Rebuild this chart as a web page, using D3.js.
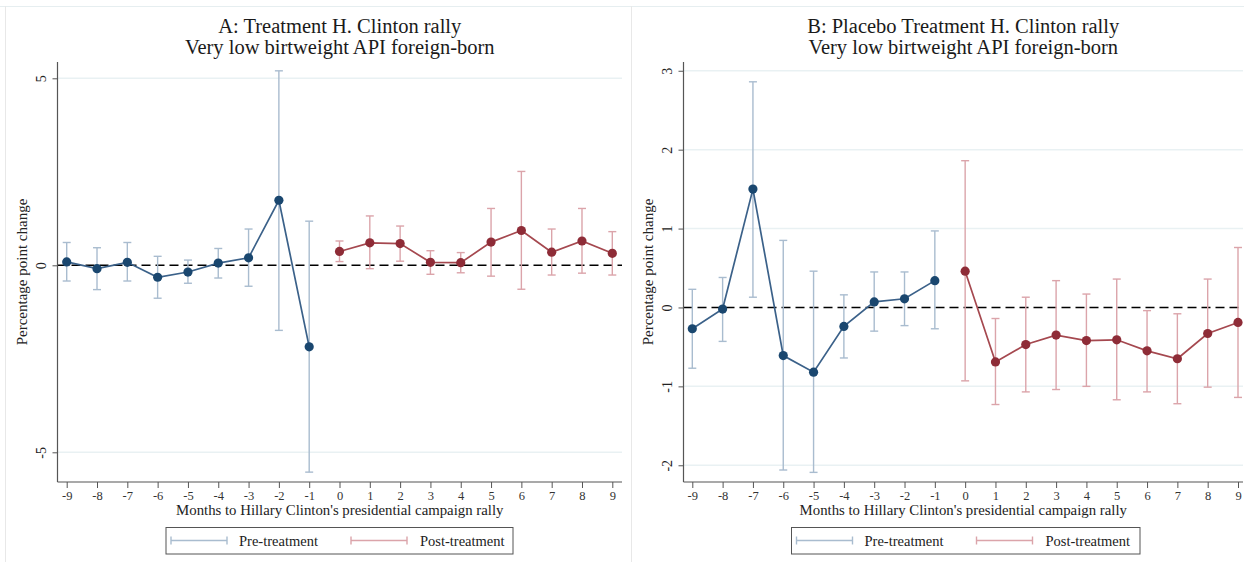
<!DOCTYPE html>
<html><head><meta charset="utf-8">
<script src="https://cdn.jsdelivr.net/npm/d3@7"></script>
<style>body{margin:0;background:#fff}svg{display:block}text{font-family:"Liberation Serif","Times New Roman",serif}</style>
</head><body><svg id="c" width="1244" height="562"></svg>
<script>
// months
const preMonths = [-9,-8,-7,-6,-5,-4,-3,-2,-1];
const postMonths = [0,1,2,3,4,5,6,7,8,9];
const xTicks = [-9,-8,-7,-6,-5,-4,-3,-2,-1,0,1,2,3,4,5,6,7,8,9];

// Panel A: Treatment
const aPre   = [0.09,-0.09,0.08,-0.32,-0.18,0.06,0.20,1.74,-2.18];
const aPreHi = [0.61,0.47,0.61,0.24,0.14,0.45,0.97,5.20,1.18];
const aPreLo = [-0.42,-0.65,-0.42,-0.88,-0.48,-0.34,-0.56,-1.74,-5.53];
const aPost   = [0.37,0.60,0.58,0.08,0.07,0.62,0.93,0.35,0.65,0.32];
const aPostHi = [0.65,1.32,1.05,0.39,0.34,1.52,2.51,0.97,1.52,0.90];
const aPostLo = [0.10,-0.09,0.11,-0.24,-0.20,-0.29,-0.64,-0.26,-0.21,-0.26];
const aYTicks = [-5,0,5];

// Panel B: Placebo
const bPre   = [-0.27,-0.02,1.50,-0.61,-0.82,-0.24,0.07,0.11,0.34];
const bPreHi = [0.23,0.38,2.86,0.85,0.46,0.16,0.45,0.45,0.97];
const bPreLo = [-0.77,-0.43,0.13,-2.06,-2.09,-0.64,-0.30,-0.23,-0.27];
const bPost   = [0.46,-0.69,-0.47,-0.35,-0.42,-0.41,-0.55,-0.65,-0.33,-0.19];
const bPostHi = [1.86,-0.14,0.13,0.34,0.17,0.36,-0.04,-0.08,0.36,0.76];
const bPostLo = [-0.93,-1.23,-1.07,-1.04,-1.00,-1.17,-1.07,-1.22,-1.01,-1.14];
const bYTicks = [-2,-1,0,1,2,3];

const titleA = ["A: Treatment H. Clinton rally","Very low birtweight API foreign-born"];
const titleB = ["B: Placebo Treatment H. Clinton rally","Very low birtweight API foreign-born"];
const xTitle = "Months to Hillary Clinton's presidential campaign rally";
const yTitle = "Percentage point change";
const legendLabels = ["Pre-treatment","Post-treatment"];

const C = {preDot:"#1a476f", preLine:"#3b6189", preCI:"#a9bccf", postDot:"#8e2c37", postLine:"#a5484f", postCI:"#dba4aa", grid:"#e9f1f3", txt:"#222"};
const fmt = d => String(d);

const svg = d3.select("#c");
svg.append("rect").attr("width",1244).attr("height",562).attr("fill","#fff");
// panel frames
svg.append("line").attr("x1",0).attr("x2",1244).attr("y1",6.5).attr("y2",6.5).attr("stroke","#e6eef0");
svg.append("line").attr("x1",5.5).attr("x2",5.5).attr("y1",6).attr("y2",562).attr("stroke","#e8e8e8");
svg.append("line").attr("x1",631.5).attr("x2",631.5).attr("y1",6).attr("y2",562).attr("stroke","#e8e8e8");

function panel(cfg){
  const g = svg.append("g");
  const x = d3.scaleLinear().domain([-9,9]).range([cfg.x0,cfg.x1]);
  const y = d3.scaleLinear().domain(cfg.yDom).range([cfg.bottom,cfg.top]);
  // gridlines
  g.selectAll(".grid").data(cfg.yTicks.filter(v=>v!==0)).enter().append("line")
    .attr("x1",cfg.left).attr("x2",cfg.right).attr("y1",d=>y(d)).attr("y2",d=>y(d))
    .attr("stroke",C.grid).attr("stroke-width",1.5);
  // zero line
  g.append("line").attr("x1",cfg.left).attr("x2",cfg.right).attr("y1",y(0)).attr("y2",y(0))
    .attr("stroke","#000").attr("stroke-width",1.6).attr("stroke-dasharray","9,5");
  // axes
  const yAxis = d3.axisLeft(y).tickValues(cfg.yTicks).tickSize(5).tickFormat(fmt);
  const ya = g.append("g").attr("transform",`translate(${cfg.left},0)`).call(yAxis);
  ya.select(".domain").attr("d",`M0,${cfg.top}V${cfg.bottom}`).attr("stroke","#555").attr("stroke-width",1.2);
  ya.selectAll(".tick line").attr("stroke","#555");
  ya.selectAll(".tick text").attr("font-size",14).attr("fill",C.txt)
    .attr("font-family","Liberation Serif")
    .attr("x",0).attr("dy","0.32em").attr("text-anchor","middle")
    .attr("transform","translate(-16,0) rotate(-90)");
  const xAxis = d3.axisBottom(x).tickValues(xTicks).tickSize(6).tickFormat(fmt);
  const xa = g.append("g").attr("transform",`translate(0,${cfg.bottom})`).call(xAxis);
  xa.select(".domain").attr("d",`M${cfg.left},0H${cfg.right}`).attr("stroke","#555").attr("stroke-width",1.2);
  xa.selectAll(".tick line").attr("stroke","#555");
  xa.selectAll(".tick text").attr("font-size",12.5).attr("fill","#333").attr("font-family","Liberation Serif").attr("y",9).attr("dy","0.71em");
  // titles
  const cx = (cfg.left+cfg.right)/2;
  g.append("text").attr("x",cx).attr("y",33).attr("text-anchor","middle").attr("font-size",20.5).attr("fill","#1a1a1a").text(cfg.title[0]);
  g.append("text").attr("x",cx).attr("y",53.5).attr("text-anchor","middle").attr("font-size",20.5).attr("fill","#1a1a1a").text(cfg.title[1]);
  g.append("text").attr("x",cx).attr("y",515).attr("text-anchor","middle").attr("font-size",14.8).attr("fill",C.txt).text(xTitle);
  g.append("text").attr("transform",`translate(${cfg.ytx},272) rotate(-90)`).attr("text-anchor","middle").attr("font-size",15).attr("fill",C.txt).text(yTitle);
  // series
  function series(months, vals, hi, lo, ciC, lineC, dotC){
    const sg = g.append("g");
    months.forEach((m,i)=>{
      sg.append("line").attr("x1",x(m)).attr("x2",x(m)).attr("y1",y(lo[i])).attr("y2",y(hi[i])).attr("stroke",ciC).attr("stroke-width",1.4);
      [hi[i],lo[i]].forEach(v=>sg.append("line").attr("x1",x(m)-4).attr("x2",x(m)+4).attr("y1",y(v)).attr("y2",y(v)).attr("stroke",ciC).attr("stroke-width",1.4));
    });
    sg.append("path").datum(months.map((m,i)=>[m,vals[i]]))
      .attr("d",d3.line().x(d=>x(d[0])).y(d=>y(d[1]))).attr("fill","none").attr("stroke",lineC).attr("stroke-width",1.7);
    sg.selectAll("circle").data(months.map((m,i)=>[m,vals[i]])).enter().append("circle")
      .attr("cx",d=>x(d[0])).attr("cy",d=>y(d[1])).attr("r",4.6).attr("fill",dotC);
  }
  series(preMonths,cfg.pre,cfg.preHi,cfg.preLo,C.preCI,C.preLine,C.preDot);
  series(postMonths,cfg.post,cfg.postHi,cfg.postLo,C.postCI,C.postLine,C.postDot);
  // legend
  const L = cfg.leg;
  g.append("rect").attr("x",L.x).attr("y",527.5).attr("width",L.w).attr("height",26.5).attr("fill","#fff").attr("stroke","#555").attr("stroke-width",1);
  const items = [{x1:L.x+5,x2:L.x+61,tx:L.x+73,c:C.preCI,t:legendLabels[0]},{x1:L.x+185,x2:L.x+241,tx:L.x+254,c:C.postCI,t:legendLabels[1]}];
  items.forEach(it=>{
    g.append("line").attr("x1",it.x1).attr("x2",it.x2).attr("y1",540.5).attr("y2",540.5).attr("stroke",it.c).attr("stroke-width",1.4);
    [it.x1,it.x2].forEach(xx=>g.append("line").attr("x1",xx).attr("x2",xx).attr("y1",536.5).attr("y2",544.5).attr("stroke",it.c).attr("stroke-width",1.4));
    g.append("text").attr("x",it.tx).attr("y",545.5).attr("font-size",14.5).attr("fill",C.txt).text(it.t);
  });
}

panel({left:57.5,right:622,top:62,bottom:482,x0:66.7,x1:612.3,yDom:[-5.794,5.436],yTicks:aYTicks,
  title:titleA,ytx:27,pre:aPre,preHi:aPreHi,preLo:aPreLo,post:aPost,postHi:aPostHi,postLo:aPostLo,leg:{x:166,w:347}});
panel({left:683.5,right:1243,top:62,bottom:482,x0:692.3,x1:1238,yDom:[-2.212,3.111],yTicks:bYTicks,
  title:titleB,ytx:653,pre:bPre,preHi:bPreHi,preLo:bPreLo,post:bPost,postHi:bPostHi,postLo:bPostLo,leg:{x:791.5,w:348.5}});
</script></body></html>
